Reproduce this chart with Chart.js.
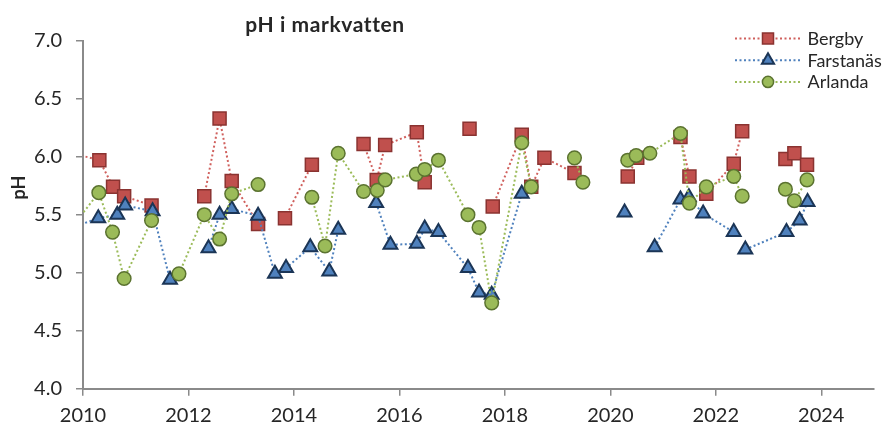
<!DOCTYPE html>
<html><head><meta charset="utf-8">
<script src="https://cdn.jsdelivr.net/npm/chart.js@4"></script>
<style>html,body{margin:0;padding:0;background:#fff;}canvas{display:block;}</style>
</head><body>
<canvas id="c" width="888" height="428"></canvas>
<script>
// ---- data (null = break in the line) ----
const seriesNames = ['Bergby', 'Farstanäs', 'Arlanda'];

const bergbyYear = [2009.80, 2010.31, 2010.57, 2010.78, 2011.30, 2011.30, 2012.30, 2012.59, 2012.82, 2013.32, 2013.32,
  2013.83, 2014.34, 2014.34, 2015.32, 2015.57, 2015.73, 2016.33, 2016.48, 2016.48, 2017.33, 2017.33,
  2017.77, 2018.32, 2018.50, 2018.75, 2019.32, 2019.32, 2020.33, 2020.51, 2020.51, 2021.33, 2021.50, 2021.50,
  2021.82, 2022.34, 2022.50, 2022.50, 2023.32, 2023.49, 2023.73];
const bergbyPH = [6.03, 5.97, 5.74, 5.66, 5.58, null, 5.66, 6.33, 5.79, 5.42, null,
  5.47, 5.93, null, 6.11, 5.80, 6.10, 6.21, 5.78, null, 6.24, null,
  5.57, 6.19, 5.74, 5.99, 5.86, null, 5.83, 5.99, null, 6.17, 5.83, null,
  5.68, 5.94, 6.22, null, 5.98, 6.03, 5.93];

const farstanasYear = [2009.80, 2010.29, 2010.65, 2010.80, 2011.32, 2011.65, 2011.65, 2012.38, 2012.59, 2012.82, 2013.32,
  2013.64, 2013.85, 2014.31, 2014.67, 2014.84, 2014.84, 2015.56, 2015.83, 2016.33, 2016.48, 2016.74, 2017.30,
  2017.51, 2017.75, 2018.32, 2018.32, 2020.27, 2020.27, 2020.84, 2021.33, 2021.49, 2021.76, 2022.34, 2022.34,
  2022.56, 2023.34, 2023.59, 2023.74];
const farstanasPH = [5.39, 5.47, 5.50, 5.58, 5.53, 4.94, null, 5.21, 5.50, 5.55, 5.49,
  4.99, 5.04, 5.22, 5.01, 5.37, null, 5.60, 5.24, 5.25, 5.38, 5.35, 5.04,
  4.83, 4.81, 5.68, null, 5.52, null, 5.22, 5.63, 5.65, 5.51, 5.35, null,
  5.20, 5.35, 5.45, 5.61];

const arlandaYear = [2009.80, 2010.30, 2010.56, 2010.78, 2011.30, 2011.30, 2011.82, 2012.30, 2012.59, 2012.82, 2013.32, 2013.32,
  2014.34, 2014.59, 2014.84, 2015.32, 2015.58, 2015.73, 2016.32, 2016.48, 2016.74, 2017.30, 2017.51, 2017.75,
  2018.32, 2018.50, 2018.50, 2019.32, 2019.48, 2019.48, 2020.33, 2020.49, 2020.75, 2021.33, 2021.50, 2021.82,
  2022.34, 2022.50, 2022.50, 2023.32, 2023.49, 2023.73];
const arlandaPH = [5.40, 5.69, 5.35, 4.95, 5.45, null, 4.99, 5.50, 5.29, 5.68, 5.76, null,
  5.65, 5.23, 6.03, 5.70, 5.71, 5.80, 5.85, 5.89, 5.97, 5.50, 5.39, 4.74,
  6.12, 5.74, null, 5.99, 5.78, null, 5.97, 6.01, 6.03, 6.20, 5.60, 5.74,
  5.83, 5.66, null, 5.72, 5.62, 5.80];

const xMin = 2010, xMax = 2025, xStep = 2;
const yMin = 4.0, yMax = 7.0, yStep = 0.5;
const titleText = 'pH i markvatten';
const yTitleText = 'pH';

// ---- styling ----
const TXT = '#262626';
const AXIS = '#8a8a8a';
const FONT = 'Lato';

function pts(xs, ys) { return xs.map((x, i) => ({ x: x, y: ys[i] })); }

const styles = [
  { line: '#d0605d', fill: '#c0504d', edge: '#8a3331', shape: 'rect', r: 9.2, lr: 7.8, bw: 1.5 },
  { line: '#4f81bd', fill: '#4f81bd', edge: '#1b3556', shape: 'triangle', r: 8, lr: 7, bw: 2 },
  { line: '#9bbb59', fill: '#9bbb59', edge: '#5b7330', shape: 'circle', r: 6.8, lr: 5.6, bw: 1.5 }
];
const dataSets = [pts(bergbyYear, bergbyPH), pts(farstanasYear, farstanasPH), pts(arlandaYear, arlandaPH)];

const datasets = dataSets.map((d, i) => ({
  label: seriesNames[i],
  data: d,
  order: 3 - i,
  borderColor: styles[i].line,
  borderWidth: 2,
  borderDash: [2, 2.5],
  tension: 0,
  spanGaps: false,
  clip: 0,
  pointStyle: styles[i].shape,
  pointRadius: styles[i].r,
  pointHoverRadius: styles[i].r,
  pointBackgroundColor: styles[i].fill,
  pointBorderColor: styles[i].edge,
  pointBorderWidth: styles[i].bw
}));

const deco = {
  id: 'deco',
  afterDraw(chart) {
    const ctx = chart.ctx;
    ctx.save();
    ctx.fillStyle = TXT;
    ctx.textAlign = 'center';
    ctx.textBaseline = 'alphabetic';
    ctx.font = 'bold 21px ' + FONT;
    try { ctx.letterSpacing = '0.6px'; } catch (e) {}
    ctx.fillText(titleText, 325, 32);
    try { ctx.letterSpacing = '0px'; } catch (e) {}
    ctx.save();
    ctx.translate(25, 187.5);
    ctx.rotate(-Math.PI / 2);
    ctx.font = 'bold 18px ' + FONT;
    ctx.fillText(yTitleText, 0, 0);
    ctx.restore();
    // legend
    ctx.font = '18px ' + FONT;
    ctx.textAlign = 'left';
    chart.data.datasets.forEach((ds, i) => {
      const st = styles[i];
      const y = 38.5 + i * 21.7;
      ctx.save();
      ctx.strokeStyle = st.line;
      ctx.lineWidth = 2;
      ctx.setLineDash([2, 2.5]);
      ctx.beginPath();
      ctx.moveTo(735, y);
      ctx.lineTo(801, y);
      ctx.stroke();
      ctx.restore();
      ctx.save();
      ctx.fillStyle = st.fill;
      ctx.strokeStyle = st.edge;
      ctx.lineWidth = st.bw;
      Chart.helpers.drawPoint(ctx, { pointStyle: st.shape, radius: st.lr, rotation: 0, borderWidth: st.bw }, 768, y);
      ctx.restore();
      ctx.fillText(ds.label, 807.5, y + 6.5);
    });
    ctx.restore();
  }
};

new Chart(document.getElementById('c'), {
  type: 'line',
  data: { datasets: datasets },
  plugins: [deco],
  options: {
    responsive: false,
    animation: false,
    devicePixelRatio: 1,
    layout: { padding: { left: 0, top: 40.7, right: 14, bottom: 0 } },
    plugins: { legend: { display: false }, title: { display: false }, tooltip: { enabled: false } },
    scales: {
      x: {
        type: 'linear',
        min: xMin, max: xMax,
        afterFit: s => { s.height = 428 - 388.7; },
        ticks: {
          stepSize: xStep, includeBounds: false,
          color: TXT, font: { family: FONT, size: 20 }, padding: 8,
          maxRotation: 0, autoSkip: false,
          callback: v => String(v)
        },
        grid: { display: true, drawOnChartArea: false, drawTicks: true, tickLength: 7, color: AXIS, lineWidth: 1.5 },
        border: { display: true, color: AXIS, width: 2 }
      },
      y: {
        min: yMin, max: yMax,
        afterFit: s => { s.width = 83; },
        ticks: {
          stepSize: yStep,
          color: TXT, font: { family: FONT, size: 20 }, padding: 14,
          callback: v => Number(v).toFixed(1)
        },
        grid: { display: true, drawOnChartArea: false, drawTicks: true, tickLength: 7, color: AXIS, lineWidth: 1.5 },
        border: { display: true, color: AXIS, width: 2 }
      }
    }
  }
});
</script>
</body></html>
